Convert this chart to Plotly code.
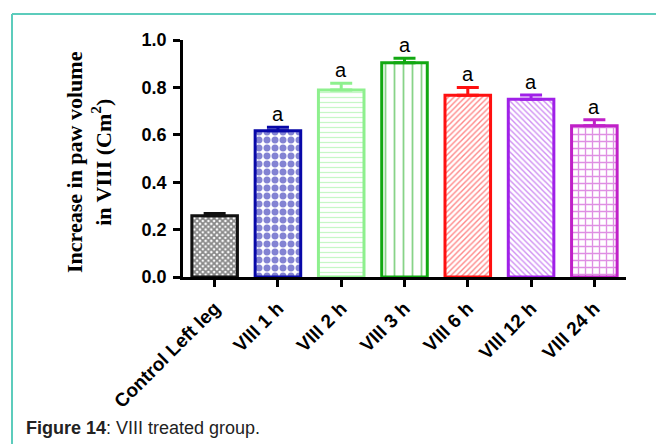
import plotly.graph_objects as go

categories = ["Control Left leg", "VIII 1 h", "VIII 2 h", "VIII 3 h", "VIII 6 h", "VIII 12 h", "VIII 24 h"]
means = [0.258, 0.617, 0.789, 0.904, 0.767, 0.750, 0.638]
sems = [0.010, 0.015, 0.028, 0.019, 0.033, 0.018, 0.025]
sig_labels = ["", "a", "a", "a", "a", "a", "a"]
y_ticks = [0.0, 0.2, 0.4, 0.6, 0.8, 1.0]

colors = ["#111111", "#0808a8", "#8ef08e", "#12a812", "#ff1010", "#a020e8", "#c020c8"]
shapes_ = ["x", ".", "-", "|", "/", "\\", "+"]
sizes = [4, 8, 5, 9, 4, 4, 7]
solid = [0.7, 0.6, 0.25, 0.2, 0.35, 0.35, 0.35]

W, H = 664, 444
OFF = 8  # page body margin offset
L, R, T, B = 183 - OFF, 46, 40 - OFF, 175
pw, ph = W - L - R, H - T - B


def px_x(x):
    return (x - OFF - L) / pw


def px_y(y):
    return (H - B - (y - OFF)) / ph


fig = go.Figure()
for i, c in enumerate(categories):
    fig.add_trace(go.Bar(
        x=[c], y=[means[i]], width=0.72,
        marker=dict(color="white", line=dict(color=colors[i], width=3),
                    pattern=dict(shape=shapes_[i], fgcolor=colors[i], bgcolor="white",
                                 size=sizes[i], solidity=solid[i], fillmode="overlay")),
        error_y=dict(type="data", array=[sems[i]], arrayminus=[0], symmetric=False,
                     color=colors[i], thickness=3, width=11),
        showlegend=False,
    ))
    if sig_labels[i]:
        fig.add_annotation(x=c, y=means[i] + sems[i], text=sig_labels[i], showarrow=False,
                           yanchor="bottom", yshift=0,
                           font=dict(family="Liberation Sans, Arial", size=20, color="black"))

fig.add_annotation(
    x=px_x(89), y=px_y(162), xref="paper", yref="paper", textangle=-90, showarrow=False,
    text="<b>Increase in paw volume<br>in VIII (Cm<sup>2</sup>)</b>",
    font=dict(family="Liberation Serif, Times New Roman", size=22, color="black"),
    xanchor="center", yanchor="middle",
)
fig.add_annotation(
    x=px_x(24), y=px_y(428), xref="paper", yref="paper", showarrow=False,
    xanchor="left", yanchor="middle", align="left",
    text="<b>Figure 14</b>: VIII treated group.",
    font=dict(family="Liberation Sans, Arial", size=18, color="#222222"),
)

teal = "#5cccbc"
fig.add_shape(type="line", xref="paper", yref="paper", x0=px_x(12), x1=px_x(680),
              y0=px_y(14), y1=px_y(14), line=dict(color=teal, width=2))
fig.add_shape(type="line", xref="paper", yref="paper", x0=px_x(12), x1=px_x(12),
              y0=px_y(14), y1=px_y(460), line=dict(color=teal, width=2))

fig.update_layout(
    width=W, height=H, margin=dict(l=L, r=R, t=T, b=B),
    plot_bgcolor="white", paper_bgcolor="white", bargap=0.28,
)
fig.update_xaxes(
    range=[-0.5, 6.5], showline=True, linecolor="black", linewidth=2.5,
    ticks="outside", ticklen=7, tickwidth=2.5, tickcolor="black",
    tickangle=-45, showgrid=False, ticklabelstandoff=3,
    tickfont=dict(family="Liberation Sans, Arial", size=19, color="black", weight="bold"),
)
fig.update_yaxes(
    range=[0, 1.0], tickvals=y_ticks, ticktext=[f"{v:.1f}" for v in y_ticks],
    showline=True, linecolor="black", linewidth=2.5,
    ticks="outside", ticklen=7, tickwidth=2.5, tickcolor="black",
    showgrid=False, zeroline=False, ticklabelstandoff=3,
    tickfont=dict(family="Liberation Sans, Arial", size=18, color="black", weight="bold"),
)

fig.write_html("out.html")
